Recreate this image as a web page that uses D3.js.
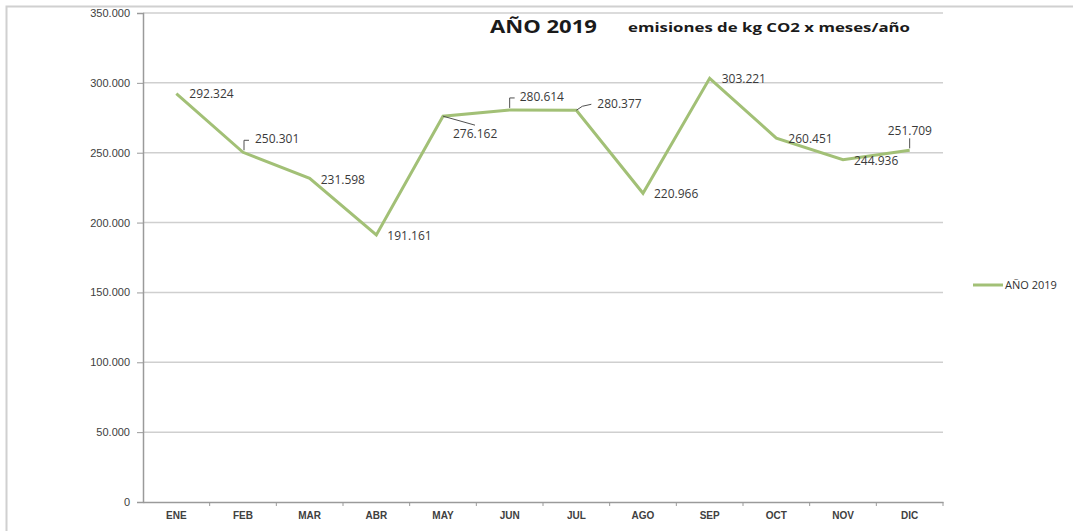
<!DOCTYPE html>
<html lang="es">
<head>
    <meta charset="UTF-8">
    <title>AÑO 2019</title>
    <style>
        body { margin: 0; background: #fff; }
        svg { display: block; font-family: "Open Sans", "Noto Sans", sans-serif; }
    </style>
</head>
<body>
    <div id="chart"></div>

    <script src="https://d3js.org/d3.v7.min.js"></script>
    <script>
        const months = ["ENE", "FEB", "MAR", "ABR", "MAY", "JUN", "JUL", "AGO", "SEP", "OCT", "NOV", "DIC"];
        const emissions = [292324, 250301, 231598, 191161, 276162, 280614, 280377, 220966, 303221, 260451, 244936, 251709];
        const yTicks = [0, 50000, 100000, 150000, 200000, 250000, 300000, 350000];
        const seriesName = "AÑO 2019";

        // label offsets relative to the point [dx, dy], plus optional leader line
        const labelPos = [
            { dx: 13, dy: 0 },
            { dx: 12, dy: -13, leader: [[1, -2], [1, -12], [6, -12]] },
            { dx: 11, dy: 1 },
            { dx: 11, dy: 1 },
            { dx: 10, dy: 18, leader: [[0, 0], [32, 9]] },
            { dx: 10, dy: -13, leader: [[0, -2], [0, -12], [5, -12]] },
            { dx: 21, dy: -6, leader: [[0, 0], [6, -4], [15, -6]] },
            { dx: 11, dy: 1 },
            { dx: 12, dy: 0 },
            { dx: 12, dy: 1 },
            { dx: 11, dy: 1 },
            { dx: -22, dy: -20, leader: [[0, -2], [0, -12]] }
        ];

        const width = 1073;
        const height = 531;
        const margin = { top: 13, left: 143, right: 130, bottom: 29 };

        const svg = d3.select("#chart").append("svg")
            .attr("width", width)
            .attr("height", height);

        // outer chart frame
        svg.append("path")
            .attr("d", `M6.5,${height} V6.5 H${width}`)
            .attr("fill", "none")
            .attr("stroke", "#d0d0d0")
            .attr("stroke-width", 2);

        const x = d3.scaleBand()
            .domain(months)
            .range([margin.left, width - margin.right]);

        const y = d3.scaleLinear()
            .domain([0, 350000])
            .range([height - margin.bottom, margin.top]);

        const fmtNum = d => d === 0 ? "0" : d3.format(",.0f")(d).replace(/,/g, ".");

        // gridlines
        svg.append("g")
            .selectAll("line")
            .data(yTicks.filter(d => d > 0))
            .join("line")
            .attr("x1", margin.left)
            .attr("x2", width - margin.right)
            .attr("y1", d => y(d))
            .attr("y2", d => y(d))
            .attr("stroke", "#cfcfcf")
            .attr("stroke-width", 1.5);

        // y axis
        const yAxis = svg.append("g")
            .attr("transform", `translate(${margin.left},0)`)
            .call(d3.axisLeft(y).tickValues(yTicks).tickFormat(fmtNum).tickSize(6).tickPadding(7));
        yAxis.select(".domain").attr("stroke", "#9a9a9a").attr("stroke-width", 1.5);
        yAxis.selectAll(".tick line").attr("stroke", "#9a9a9a");
        yAxis.selectAll("text").attr("font-size", 11).attr("fill", "#404040");

        // x axis
        const xAxis = svg.append("g")
            .attr("transform", `translate(0,${height - margin.bottom})`)
            .call(d3.axisBottom(x).tickSize(0).tickPadding(10));
        xAxis.select(".domain").attr("stroke", "#9a9a9a").attr("stroke-width", 1.5);
        xAxis.selectAll("text").attr("font-size", 10).attr("font-weight", "bold").attr("fill", "#404040");
        xAxis.append("g")
            .selectAll("line")
            .data(months)
            .join("line")
            .attr("x1", (d, i) => margin.left + x.step() * (i + 1))
            .attr("x2", (d, i) => margin.left + x.step() * (i + 1))
            .attr("y1", 0)
            .attr("y2", 4)
            .attr("stroke", "#9a9a9a");

        const cx = (d, i) => x(months[i]) + x.bandwidth() / 2;

        // data line
        const line = d3.line()
            .x((d, i) => cx(d, i))
            .y(d => y(d));

        svg.append("path")
            .datum(emissions)
            .attr("d", line)
            .attr("fill", "none")
            .attr("stroke", "#a2c076")
            .attr("stroke-width", 3)
            .attr("stroke-linejoin", "miter");

        // leader lines
        svg.append("g")
            .selectAll("path")
            .data(emissions.map((v, i) => ({ v, i, p: labelPos[i] })).filter(d => d.p.leader))
            .join("path")
            .attr("d", d => d3.line()(d.p.leader.map(([a, b]) => [cx(d.v, d.i) + a, y(d.v) + b])))
            .attr("fill", "none")
            .attr("stroke", "#505050")
            .attr("stroke-width", 1);

        // data labels
        svg.append("g")
            .selectAll("text")
            .data(emissions)
            .join("text")
            .attr("x", (d, i) => cx(d, i) + labelPos[i].dx)
            .attr("y", (d, i) => y(d) + labelPos[i].dy)
            .attr("dy", "0.35em")
            .attr("font-size", 12)
            .attr("fill", "#3a3a3a")
            .text(fmtNum);

        // title
        svg.append("text")
            .attr("x", 490)
            .attr("y", 33)
            .attr("font-size", 18)
            .attr("font-weight", "bold")
            .attr("fill", "#1a1a1a")
            .attr("textLength", 107)
            .attr("lengthAdjust", "spacingAndGlyphs")
            .text("AÑO 2019");

        svg.append("text")
            .attr("x", 628)
            .attr("y", 32)
            .attr("font-size", 13)
            .attr("font-weight", "bold")
            .attr("fill", "#1a1a1a")
            .attr("textLength", 282)
            .attr("lengthAdjust", "spacingAndGlyphs")
            .text("emisiones de kg CO2 x meses/año");

        // legend
        const legend = svg.append("g").attr("transform", "translate(973,285)");
        legend.append("line")
            .attr("x1", 0).attr("x2", 30)
            .attr("stroke", "#a2c076")
            .attr("stroke-width", 3);
        legend.append("text")
            .attr("x", 32)
            .attr("dy", "0.35em")
            .attr("font-size", 11)
            .attr("fill", "#303030")
            .text(seriesName);
    </script>
</body>
</html>
